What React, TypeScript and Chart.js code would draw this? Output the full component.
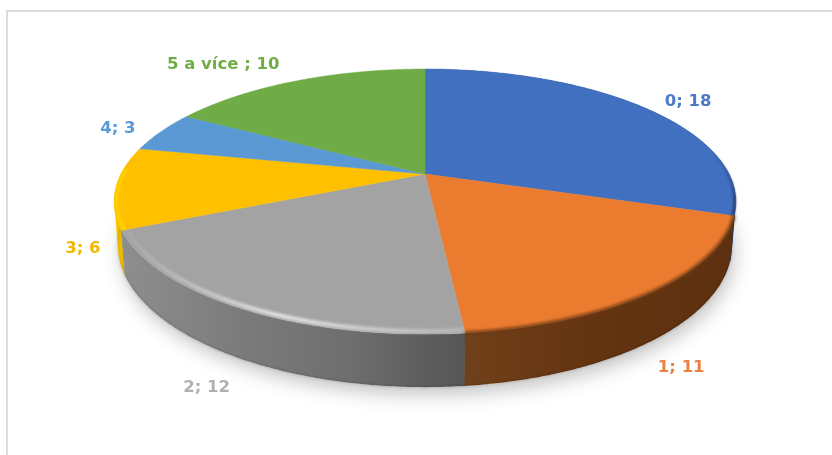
import React, { useEffect, useRef } from "react";
import { Chart, registerables } from "chart.js";

Chart.register(...registerables);

const categories = ["0", "1", "2", "3", "4", "5 a více "];
const counts = [18, 11, 12, 6, 3, 10];
const faceColors = ["#4270C0", "#EB7B2F", "#A3A3A3", "#FFC000", "#5A99D3", "#6FAB46"];
const labelColors = ["#4E79C7", "#E98240", "#B0B0B0", "#F2B800", "#5B9BD5", "#70AD47"];

// Horizontal colour ramps for the visible wall of each slice.
const wallRamps: (string[] | null)[] = [
  ["#2c4f8e", "#1b3158"],
  ["#70401a", "#633410", "#5d3010"],
  ["#8e8e8e", "#7c7c7c", "#6e6e6e", "#555557"],
  ["#ffd000", "#e2a800", "#c99600"],
  null,
  null,
];

// Colour of the joint where a wall meets the next one.
const wallJoints = ["#3a3040", "#5c4a38", "#8e8e8e"];

// Pixel offsets of each data label from the rim point at its slice's mid-angle.
const labelOffsets = [
  [44, -6],
  [28, 76],
  [-33, 80],
  [-33, 61],
  [-43, -3],
  [-73, -16],
];

// Tilted-disc projection.
const TILT = 0.208;
const SCALE_X = 304 / 174;
const SCALE_Y = 126.8 / 174;
const WALL_DEPTH = 42;
const BASE_SHRINK = 0.988;

type Pt = { x: number; y: number };

function makeProjector(cx: number, cy: number, radius: number) {
  const top = (a: number, rf = 1): Pt => {
    const u = Math.cos(a) * rf;
    const v = Math.sin(a) * rf;
    const w = 1 - TILT * v;
    return { x: cx + (radius * SCALE_X * u) / w, y: cy + (radius * SCALE_Y * v) / w };
  };
  const base = (a: number): Pt => {
    const p = top(a);
    const w = 1 - TILT * Math.sin(a);
    return { x: cx + (p.x - cx) * BASE_SHRINK, y: p.y + WALL_DEPTH / w };
  };
  return { top, base };
}

function sweep(a0: number, a1: number, fn: (a: number) => Pt): Pt[] {
  const n = Math.max(2, Math.ceil(Math.abs(a1 - a0) / 0.01));
  const pts: Pt[] = [];
  for (let i = 0; i <= n; i++) pts.push(fn(a0 + ((a1 - a0) * i) / n));
  return pts;
}

function tracePath(ctx: CanvasRenderingContext2D, pts: Pt[], close: boolean) {
  ctx.beginPath();
  pts.forEach((p, i) => (i ? ctx.lineTo(p.x, p.y) : ctx.moveTo(p.x, p.y)));
  if (close) ctx.closePath();
}

function signedArea(pts: Pt[]) {
  let s = 0;
  pts.forEach((p, i) => {
    const n = pts[(i + 1) % pts.length];
    s += p.x * n.y - n.x * p.y;
  });
  return s;
}

function softStroke(
  ctx: CanvasRenderingContext2D,
  pts: Pt[],
  style: string | CanvasGradient,
  width: number,
  blur: number
) {
  ctx.save();
  ctx.filter = `blur(${blur}px)`;
  ctx.strokeStyle = style;
  ctx.lineWidth = width;
  ctx.lineCap = "butt";
  tracePath(ctx, pts, false);
  ctx.stroke();
  ctx.restore();
}

const rad = (deg: number) => ((deg - 90) * Math.PI) / 180;

const tiltedPie = {
  id: "tiltedPie",
  beforeDatasetsDraw(chart: any) {
    const ctx: CanvasRenderingContext2D = chart.ctx;
    const arcs = chart.getDatasetMeta(0).data as any[];
    const first = arcs[0];
    const proj = makeProjector(first.x, first.y, first.outerRadius);

    // Soft ground shadow.
    ctx.save();
    ctx.shadowColor = "rgba(70,70,70,0.30)";
    ctx.shadowBlur = 18;
    ctx.shadowOffsetY = 8;
    ctx.shadowOffsetX = 3;
    ctx.fillStyle = "#ffffff";
    tracePath(ctx, sweep(-Math.PI / 2, (3 * Math.PI) / 2, proj.base), true);
    ctx.fill();
    ctx.restore();

    // Walls: one path of narrow quads, all wound alike, so the strip can fold
    // at the silhouette without holes or seams.
    arcs.forEach((arc, i) => {
      const ramp = wallRamps[i];
      if (!ramp) return;
      const upper = sweep(arc.startAngle, arc.endAngle, proj.top);
      const lower = sweep(arc.startAngle, arc.endAngle, proj.base);
      const xs = [...upper, ...lower].map((p) => p.x);
      const grad = ctx.createLinearGradient(Math.min(...xs), 0, Math.max(...xs), 0);
      ramp.forEach((c, k) => grad.addColorStop(k / (ramp.length - 1), c));
      ctx.fillStyle = grad;
      ctx.beginPath();
      for (let q = 0; q < upper.length - 1; q++) {
        let quad = [upper[q], upper[q + 1], lower[q + 1], lower[q]];
        if (signedArea(quad) < 0) quad = quad.reverse();
        quad.forEach((p, k) => (k ? ctx.lineTo(p.x, p.y) : ctx.moveTo(p.x, p.y)));
        ctx.closePath();
      }
      ctx.fill();
      // Darkened foot of the wall.
      softStroke(ctx, lower, "rgba(0,0,0,0.16)", 1.5, 0.8);
    });

    // Close the antialiased joints between neighbouring walls.
    wallJoints.forEach((color, i) => {
      const a = arcs[i].endAngle;
      const p = proj.top(a);
      const q = proj.base(a);
      ctx.strokeStyle = color;
      ctx.lineWidth = 1;
      ctx.beginPath();
      ctx.moveTo(p.x, p.y);
      ctx.lineTo(q.x, q.y);
      ctx.stroke();
    });

    // Top faces.
    arcs.forEach((arc, i) => {
      const poly = [{ x: first.x, y: first.y }, ...sweep(arc.startAngle, arc.endAngle, proj.top)];
      ctx.fillStyle = faceColors[i];
      ctx.strokeStyle = faceColors[i];
      ctx.lineWidth = 0.5;
      tracePath(ctx, poly, true);
      ctx.fill();
      ctx.stroke();
    });

    // Rounded rim: dark on the blue and orange slices, bright on the grey and yellow ones.
    const [blue, orange, grey, yellow] = arcs;
    const fade = ctx.createLinearGradient(0, 150, 0, 205);
    fade.addColorStop(0, "rgba(31,56,100,0)");
    fade.addColorStop(1, "rgba(31,56,100,1)");
    softStroke(ctx, sweep(rad(55), blue.endAngle, (a) => proj.top(a, 0.996)), fade, 2.4, 1);
    softStroke(ctx, sweep(orange.startAngle, orange.endAngle, (a) => proj.top(a, 1)), "rgba(110,58,20,0.9)", 3.5, 1.6);

    const shine = ctx.createLinearGradient(125, 0, 463, 0);
    shine.addColorStop(0, "rgba(255,255,255,0.05)");
    shine.addColorStop(0.45, "rgba(255,255,255,0.8)");
    shine.addColorStop(0.75, "rgba(255,255,255,0.5)");
    shine.addColorStop(1, "rgba(255,255,255,0.25)");
    softStroke(ctx, sweep(grey.startAngle, grey.endAngle, (a) => proj.top(a, 0.985)), shine, 3.6, 1.6);

    softStroke(ctx, sweep(yellow.startAngle, rad(272), (a) => proj.top(a, 0.992)), "#ffd400", 3, 1);

    return false;
  },
  // Dataset hooks stop at the cancelled draw, so the labels go on at the end of the frame.
  afterDraw(chart: any) {
    const ctx: CanvasRenderingContext2D = chart.ctx;
    const arcs = chart.getDatasetMeta(0).data as any[];
    const proj = makeProjector(arcs[0].x, arcs[0].y, arcs[0].outerRadius);
    ctx.save();
    ctx.font = 'bold 16.5px "DejaVu Sans"';
    ctx.textAlign = "center";
    ctx.textBaseline = "middle";
    arcs.forEach((arc, i) => {
      const rim = proj.top((arc.startAngle + arc.endAngle) / 2);
      ctx.fillStyle = labelColors[i];
      ctx.fillText(`${categories[i]}; ${counts[i]}`, rim.x + labelOffsets[i][0], rim.y + labelOffsets[i][1]);
    });
    ctx.restore();
  },
};

export default function App() {
  const canvasRef = useRef<HTMLCanvasElement | null>(null);

  useEffect(() => {
    const chart = new Chart(canvasRef.current!, {
      type: "pie",
      data: {
        labels: categories,
        datasets: [{ data: counts, backgroundColor: faceColors, borderWidth: 0 }],
      },
      options: {
        animation: false,
        responsive: false,
        devicePixelRatio: 1,
        events: [],
        layout: { padding: { left: 18, bottom: 107 } },
        plugins: { legend: { display: false }, tooltip: { enabled: false }, title: { display: false } },
      },
      plugins: [tiltedPie],
    } as any);
    return () => chart.destroy();
  }, []);

  return (
    <div style={{ position: "fixed", inset: 0, overflow: "hidden", background: "#ffffff" }}>
      <div
        style={{
          position: "absolute",
          left: 6,
          top: 10,
          width: 900,
          height: 600,
          border: "2px solid #dcdcdc",
          boxSizing: "border-box",
        }}
      />
      <canvas ref={canvasRef} width={832} height={455} style={{ position: "absolute", left: 0, top: 0, display: "block" }} />
    </div>
  );
}
